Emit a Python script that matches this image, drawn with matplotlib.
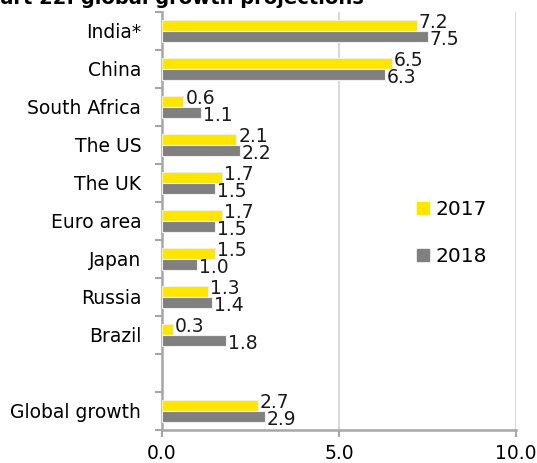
import numpy as np
import matplotlib
matplotlib.use("Agg")
import matplotlib.pyplot as plt
from matplotlib.lines import Line2D

# data, top to bottom (blank slot separates Global growth)
categories = ["India*", "China", "South Africa", "The US", "The UK",
              "Euro area", "Japan", "Russia", "Brazil", "", "Global growth"]
y2017 = [7.2, 6.5, 0.6, 2.1, 1.7, 1.7, 1.5, 1.3, 0.3, np.nan, 2.7]
y2018 = [7.5, 6.3, 1.1, 2.2, 1.5, 1.5, 1.0, 1.4, 1.8, np.nan, 2.9]
xticks = [0.0, 5.0, 10.0]

YEL = "#FFE600"
GRY = "#808080"
AXC = "#A6A6A6"
GRID = "#D9D9D9"
FS = 13.5

W, H = 537, 463
fig = plt.figure(figsize=(W / 100, H / 100), dpi=100)
ax = fig.add_axes([162 / W, 1 - 430 / H, (516 - 162) / W, (430 - 12) / H])

pos = np.arange(len(categories))
bh = 0.3
ax.barh(pos - bh / 2, y2017, height=bh, color=YEL, edgecolor="#EEEEEE",
        linewidth=0.8, zorder=3)
ax.barh(pos + bh / 2, y2018, height=bh, color=GRY, edgecolor="#EEEEEE",
        linewidth=0.8, zorder=3)

for p, a, b in zip(pos, y2017, y2018):
    if np.isnan(a):
        continue
    ax.annotate(f"{a:.1f}", (a, p - bh / 2), xytext=(1.5, 2),
                textcoords="offset points", ha="left", va="center",
                fontsize=FS, color="#1a1a1a", zorder=4)
    ax.annotate(f"{b:.1f}", (b, p + bh / 2), xytext=(1.5, -2),
                textcoords="offset points", ha="left", va="center",
                fontsize=FS, color="#1a1a1a", zorder=4)

ax.set_xlim(0, 10)
ax.set_ylim(len(categories) - 0.5, -0.5)
ax.set_xticks(xticks, [f"{t:.1f}" for t in xticks], fontsize=FS)
ax.set_yticks(pos, categories, fontsize=FS)
ax.set_yticks(np.arange(len(categories) + 1) - 0.5, minor=True)
ax.tick_params(axis="y", which="major", length=0, pad=15)
ax.tick_params(axis="y", which="minor", length=5, width=1.5, color=AXC)
ax.tick_params(axis="x", length=5, width=1.5, color=AXC, pad=5)
ax.xaxis.grid(True, color=GRID, linewidth=1.5, zorder=0)
ax.set_axisbelow(True)
for s in ("top", "right"):
    ax.spines[s].set_visible(False)
for s in ("left", "bottom"):
    ax.spines[s].set_color(AXC)
    ax.spines[s].set_linewidth(1.8)

handles = [Line2D([], [], marker="s", linestyle="", markersize=9,
                  color=YEL, label="2017"),
           Line2D([], [], marker="s", linestyle="", markersize=9,
                  color=GRY, label="2018")]
fig.legend(handles=handles, loc="center left",
           bbox_to_anchor=(415 / W, 1 - 233 / H), frameon=False,
           fontsize=14.5, handlelength=0.8, handletextpad=0.2,
           labelspacing=1.35, borderpad=0, borderaxespad=0)

fig.text(-28 / W, 1 - 4 / H, "Chart 22: global growth projections",
         fontsize=14, fontweight="bold", ha="left", va="baseline")

fig.savefig("out.png", dpi=100, facecolor="white")
